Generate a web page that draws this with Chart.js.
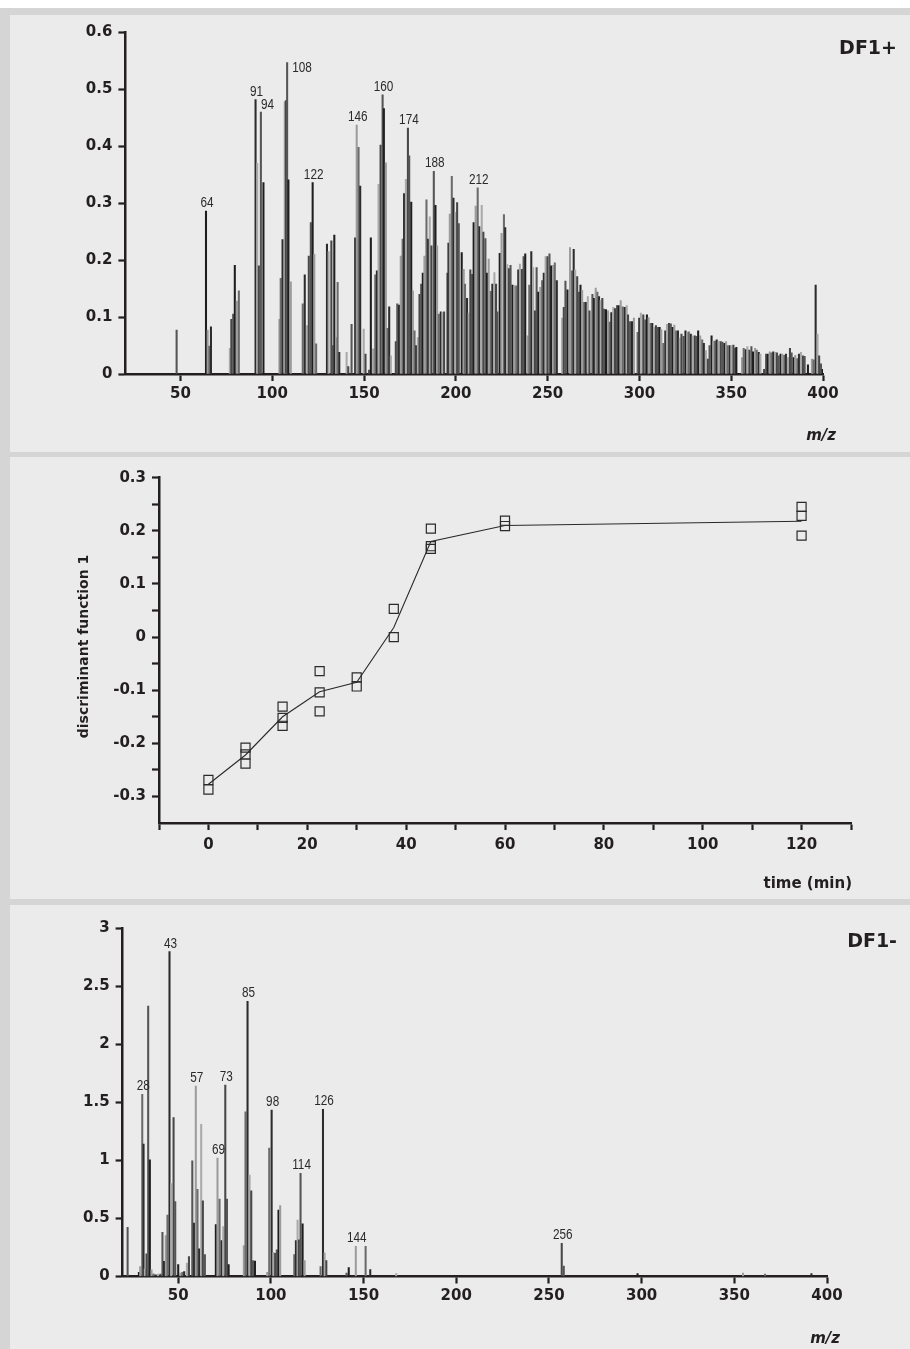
<!doctype html>
<html>

<head>
    <title>DF1 loadings</title>
    <script src="https://cdn.jsdelivr.net/npm/chart.js@4.4.1/dist/chart.umd.min.js"></script>
    <style>
    body { margin: 0; background: #fff; }
    #frame { position: absolute; left: 0; top: 8px; width: 910px; height: 1341px; background: #d5d5d5; }
    .panel { position: absolute; left: 10px; width: 900px; background: #ebebeb; }
    canvas { display: block; }
    </style>
</head>

<body>
    <div id="frame"></div>
    <div class="panel" style="top:15px;height:437px"><canvas id="canvas" width="900" height="437"></canvas></div>
    <div class="panel" style="top:457px;height:442px"><canvas id="canvas2" width="900" height="442"></canvas></div>
    <div class="panel" style="top:905px;height:444px"><canvas id="canvas3" width="900" height="444"></canvas></div>
    <script>
        // ---- DF1+ loadings (m/z, loading) ----
        var posMz = [
            47.9, 63.9, 64.8, 65.7, 66.6, 76.9, 77.7, 78.7, 79.6, 80.7, 81.8,
            90.9, 91.8, 92.7, 93.8, 95.2, 103.9, 104.6, 105.6, 106.8, 107.4, 108.1, 108.8, 110.1,
            116.6, 117.7, 119.0, 119.9, 121.0, 122.0, 122.9, 123.9,
            129.8, 130.7, 132.2, 132.8, 133.8, 134.7, 135.6, 136.5, 140.5, 141.4, 143.2,
            145.2, 146.0, 147.0, 147.9, 149.8, 150.8, 152.7, 153.7, 155.0, 156.1, 157.0, 157.9, 159.0, 160.1, 160.8, 161.9, 162.8, 163.7, 164.6,
            167.3, 168.1, 169.1, 170.0, 171.0, 171.8, 172.8, 173.9, 174.6, 175.7, 176.6, 177.5, 178.4, 179.3, 180.2, 181.1,
            182.0, 182.9, 184.0, 184.9, 185.8, 186.7, 188.0, 188.9, 189.8, 190.7, 191.8, 192.7, 193.6,
            195.4, 196.0, 196.7, 197.8, 198.7, 199.8, 200.7, 201.6, 203.2, 204.3, 205.0, 206.1, 207.0,
            207.9, 208.8, 209.7, 210.8, 211.9, 212.8, 214.1, 215.0, 216.1, 217.0, 217.9, 219.0, 219.9, 221.0, 221.9, 222.6,
            223.9, 224.9, 226.2, 226.9, 228.0, 228.9, 229.8, 230.9, 231.8, 232.9, 234.0, 234.9, 236.0, 236.9, 237.8, 239.1,
            240.0, 241.1, 242.1, 243.1, 244.0, 244.9, 246.0, 247.0, 247.9, 248.9, 249.9, 251.0, 251.9, 253.0, 253.9, 255.0,
            257.9, 258.8, 259.7, 260.8, 262.2, 263.3, 264.2, 265.0, 266.1, 267.0, 267.9, 268.8, 269.9, 270.8, 271.9, 272.8,
            274.4, 275.3, 276.2, 277.1, 278.0, 278.9, 279.8, 280.7, 281.8, 282.9, 283.8, 284.7,
            285.8, 286.7, 287.8, 288.7, 289.8, 290.9, 292.0, 293.1, 293.8, 294.9, 296.0, 297.0,
            299.0, 299.9, 300.8, 302.1, 303.2, 304.1, 305.0, 306.1, 307.0, 308.1, 309.0, 310.1, 311.0, 311.9, 313.0, 314.1,
            315.0, 316.1, 317.1, 318.1, 319.0, 320.0, 321.0, 322.0, 322.9, 324.0, 325.1, 326.0, 326.9, 328.0, 329.1, 330.2,
            331.1, 332.0, 333.1, 334.2, 335.1, 336.2, 337.3, 338.2, 339.3, 340.2, 341.2, 342.1, 343.2, 344.3, 345.2, 346.3,
            347.2, 348.1, 349.2, 350.1, 351.2, 352.1, 352.8, 355.9, 356.8, 357.9, 358.8, 359.9, 361.0, 361.9, 363.0, 363.9,
            365.0, 365.9, 367.9, 369.0, 369.9, 371.0, 371.9, 372.9, 373.9, 374.9, 375.8, 376.9, 377.8, 378.9, 379.8, 380.9,
            382.0, 382.9, 384.0, 384.9, 386.0, 386.9, 388.0, 389.1, 390.0, 391.8, 394.0, 394.9, 396.0, 397.0, 397.9, 398.9, 399.8
        ];
        var posLoad = [
            0.077, 0.286, 0.077, 0.049, 0.083, 0.045, 0.096, 0.105, 0.191, 0.128, 0.146,
            0.482, 0.370, 0.190, 0.460, 0.336, 0.096, 0.168, 0.236, 0.478, 0.480, 0.547, 0.341, 0.162,
            0.123, 0.174, 0.085, 0.207, 0.266, 0.336, 0.210, 0.053,
            0.228, 0.215, 0.234, 0.050, 0.244, 0.064, 0.161, 0.038, 0.038, 0.013, 0.087,
            0.239, 0.437, 0.398, 0.330, 0.079, 0.035, 0.007, 0.239, 0.044, 0.174, 0.181, 0.333, 0.402, 0.490, 0.466, 0.371, 0.080, 0.118, 0.032,
            0.057, 0.123, 0.121, 0.207, 0.237, 0.317, 0.342, 0.432, 0.383, 0.302, 0.146, 0.076, 0.050, 0.064, 0.140, 0.158,
            0.177, 0.207, 0.306, 0.237, 0.276, 0.225, 0.356, 0.296, 0.225, 0.105, 0.109, 0.108, 0.109,
            0.177, 0.230, 0.281, 0.347, 0.309, 0.284, 0.301, 0.264, 0.213, 0.184, 0.158, 0.133, 0.107,
            0.183, 0.175, 0.266, 0.295, 0.327, 0.259, 0.296, 0.249, 0.238, 0.177, 0.202, 0.145, 0.158, 0.178, 0.158, 0.109,
            0.212, 0.247, 0.280, 0.257, 0.192, 0.185, 0.191, 0.156, 0.155, 0.155, 0.183, 0.193, 0.184, 0.206, 0.211, 0.067,
            0.156, 0.215, 0.187, 0.111, 0.187, 0.144, 0.152, 0.164, 0.177, 0.206, 0.206, 0.211, 0.190, 0.191, 0.195, 0.164,
            0.098, 0.117, 0.163, 0.148, 0.222, 0.181, 0.219, 0.183, 0.171, 0.144, 0.156, 0.147, 0.126, 0.126, 0.136, 0.111,
            0.140, 0.133, 0.151, 0.144, 0.136, 0.129, 0.133, 0.114, 0.113, 0.111, 0.091, 0.108,
            0.117, 0.115, 0.120, 0.120, 0.129, 0.118, 0.117, 0.120, 0.104, 0.092, 0.092, 0.098,
            0.073, 0.098, 0.107, 0.104, 0.095, 0.104, 0.099, 0.089, 0.089, 0.082, 0.085, 0.082, 0.082, 0.078, 0.054, 0.076,
            0.087, 0.089, 0.088, 0.082, 0.086, 0.076, 0.076, 0.063, 0.070, 0.066, 0.076, 0.073, 0.074, 0.070, 0.067, 0.067,
            0.066, 0.076, 0.067, 0.060, 0.054, 0.041, 0.026, 0.050, 0.067, 0.058, 0.058, 0.060, 0.058, 0.057, 0.056, 0.054,
            0.057, 0.050, 0.050, 0.050, 0.051, 0.045, 0.047, 0.029, 0.045, 0.043, 0.048, 0.042, 0.048, 0.039, 0.045, 0.042,
            0.038, 0.035, 0.008, 0.035, 0.035, 0.039, 0.037, 0.039, 0.038, 0.037, 0.032, 0.035, 0.035, 0.033, 0.035, 0.029,
            0.045, 0.037, 0.029, 0.033, 0.027, 0.035, 0.038, 0.032, 0.031, 0.016, 0.026, 0.025, 0.156, 0.070, 0.032, 0.018, 0.008
        ];
        var posPeakText = ['64', '91', '94', '108', '122', '146', '160', '174', '188', '212'];
        var posPeakAt = [63.9, 90.9, 93.8, 108.1, 122.0, 146.0, 160.1, 173.9, 188.0, 211.9];

        // ---- discriminant function 1 vs time ----
        var timePts = [0, 0, 7.5, 7.5, 7.5, 15, 15, 15, 22.5, 22.5, 22.5, 30, 30, 37.5, 37.5, 45, 45, 45, 60, 60, 120, 120, 120];
        var dfPts = [-0.269, -0.287, -0.208, -0.221, -0.238, -0.131, -0.152, -0.167, -0.064, -0.104, -0.140, -0.076, -0.093,
            0.053, 0.000, 0.204, 0.171, 0.166, 0.219, 0.209, 0.245, 0.228, 0.191];
        var lineTimes = [0, 7.5, 15, 22.5, 30, 37.5, 45, 60, 120];
        var lineVals = [-0.277, -0.222, -0.150, -0.103, -0.085, 0.018, 0.180, 0.210, 0.218];

        // ---- DF1- loadings (m/z, loading) ----
        var negMz = [
            22.7, 28.8, 29.5, 30.6, 31.3, 32.0, 32.9, 33.8, 34.7, 35.6, 36.7, 37.9, 39.0, 40.4,
            41.5, 42.4, 43.3, 44.2, 45.3, 46.2, 47.5, 48.4, 50.0, 51.1, 52.2, 53.2, 54.7, 55.8,
            57.6, 58.6, 59.5, 60.4, 61.3, 62.4, 63.3, 64.4,
            70.3, 71.2, 72.3, 73.4, 74.3, 75.4, 76.3, 77.2,
            85.4, 86.3, 87.4, 88.5, 89.4, 90.3, 91.4,
            98.0, 99.1, 100.4, 101.4, 102.3, 103.2, 104.1, 105.0,
            112.6, 113.5, 114.4, 115.1, 116.0, 117.1, 118.2,
            126.8, 128.1, 129.0, 129.9, 140.8, 142.0, 145.8, 151.1, 153.6, 167.6,
            256.9, 258.0, 297.8, 354.7, 366.6, 391.6
        ];
        var negLoad = [
            0.424, 0.037, 0.086, 1.570, 1.140, 0.066, 0.195, 2.330, 1.006, 0.057, 0.023, 0.014, 0.020, 0.020,
            0.380, 0.130, 0.352, 0.530, 2.800, 0.800, 1.370, 0.645, 0.103, 0.029, 0.037, 0.043, 0.115, 0.172,
            0.997, 0.461, 1.640, 0.750, 0.238, 1.310, 0.653, 0.189,
            0.447, 1.020, 0.668, 0.310, 0.430, 1.650, 0.668, 0.103,
            0.266, 1.418, 2.370, 0.874, 0.739, 0.138, 0.132,
            0.037, 1.106, 1.433, 0.209, 0.200, 0.230, 0.573, 0.610,
            0.189, 0.310, 0.487, 0.315, 0.888, 0.453, 0.138,
            0.086, 1.441, 0.203, 0.138, 0.030, 0.076, 0.260, 0.260, 0.060, 0.026,
            0.285, 0.090, 0.025, 0.030, 0.020, 0.025
        ];
        var negPeakText = ['28', '43', '57', '69', '73', '85', '98', '114', '126', '144', '256'];
        var negPeakAt = [30.6, 45.3, 59.5, 71.2, 75.4, 87.4, 100.4, 116.0, 128.1, 145.8, 256.9];

        // ---- tick labels ----
        var mzTicks = [50, 100, 150, 200, 250, 300, 350, 400];
        var mzLabels = ['50', '100', '150', '200', '250', '300', '350', '400'];
        var posTicks = [0, 0.1, 0.2, 0.3, 0.4, 0.5, 0.6];
        var posLabels = ['0', '0.1', '0.2', '0.3', '0.4', '0.5', '0.6'];
        var negTicks = [0, 0.5, 1, 1.5, 2, 2.5, 3];
        var negLabels = ['0', '0.5', '1', '1.5', '2', '2.5', '3'];
        var timeTicks = [-10, 0, 10, 20, 30, 40, 50, 60, 70, 80, 90, 100, 110, 120, 130];
        var timeLabels = ['', '0', '', '20', '', '40', '', '60', '', '80', '', '100', '', '120', ''];
        var dfTicks = [-0.3, -0.25, -0.2, -0.15, -0.1, -0.05, 0, 0.05, 0.1, 0.15, 0.2, 0.25, 0.3];
        var dfLabels = ['-0.3', '', '-0.2', '', '-0.1', '', '0', '', '0.1', '', '0.2', '', '0.3'];

        var ink = '#231f20';
        var tickFont = { family: '"DejaVu Sans", sans-serif', weight: 'bold', size: 15 };
        var shades = ['#555555', '#1e1e1e', '#9c9c9c', '#6b6b6b', '#2c2c2c', '#a9a9a9', '#474747'];

        function axis(o) {
            return {
                type: 'linear', min: o.min, max: o.max, offset: false,
                afterBuildTicks: function(s) { s.ticks = o.ticks.map(function(v) { return { value: v }; }); },
                afterFit: function(s) { if (o.w) s.width = o.w; if (o.h) s.height = o.h; },
                ticks: {
                    autoSkip: false, maxRotation: 0, padding: o.pad, color: ink, font: tickFont,
                    callback: function(v, i) { return o.labels[i]; }
                },
                grid: { offset: false, drawOnChartArea: false, drawTicks: true, tickLength: 7, tickWidth: 2.2, tickColor: ink },
                border: { display: true, color: ink, width: 2.5 }
            };
        }

        // peak labels and free text drawn on top of the chart
        var annotate = {
            id: 'annotate',
            afterDatasetsDraw: function(chart, args, opts) {
                var ctx = chart.ctx;
                var xs = chart.scales.x, ys = chart.scales.y;
                ctx.save();
                if (opts.peakText) {
                    var d = chart.data.datasets[0].data;
                    ctx.font = '14px "Liberation Sans", sans-serif';
                    ctx.fillStyle = '#2a2a2a';
                    ctx.textBaseline = 'alphabetic';
                    opts.peakText.forEach(function(t, i) {
                        var at = opts.peakAt[i], best = d[0];
                        d.forEach(function(p) { if (Math.abs(p.x - at) < Math.abs(best.x - at)) best = p; });
                        var px = xs.getPixelForValue(best.x), py = ys.getPixelForValue(best.y);
                        var place = (opts.place || {})[t];
                        var tx = px + 1, ty = py - 4, al = 'center';
                        if (place === 'r') { tx = px + 5; ty = py + 10; al = 'left'; }
                        else if (place === 'l') { tx = px; ty = py - 3; al = 'left'; }
                        // narrow, like the condensed face of the original
                        ctx.save();
                        ctx.translate(tx, ty);
                        ctx.scale(0.84, 1);
                        ctx.textAlign = al;
                        ctx.fillText(t, 0, 0);
                        ctx.restore();
                    });
                }
                (opts.texts || []).forEach(function(t) {
                    ctx.save();
                    ctx.font = t.font;
                    ctx.fillStyle = ink;
                    ctx.textAlign = t.align || 'right';
                    ctx.textBaseline = 'alphabetic';
                    ctx.translate(t.x, t.y);
                    if (t.rot) ctx.rotate(t.rot);
                    ctx.fillText(t.t, 0, 0);
                    ctx.restore();
                });
                ctx.restore();
            }
        };

        function barData(mz, vals) {
            return {
                datasets: [{
                    data: mz.map(function(m, i) { return { x: m, y: vals[i] }; }),
                    backgroundColor: function(c) { return shades[c.dataIndex % shades.length]; },
                    borderWidth: 0,
                    barThickness: 1.4
                }]
            };
        }

        var common = {
            responsive: false,
            animation: false,
            events: []
        };

        window.myBar = new Chart(document.getElementById('canvas').getContext('2d'), {
            type: 'bar',
            data: barData(posMz, posLoad),
            plugins: [annotate],
            options: Object.assign({}, common, {
                layout: { padding: { left: 0, top: 17.3, right: 87, bottom: 38 } },
                scales: {
                    x: axis({ min: 20, max: 400, ticks: mzTicks, labels: mzLabels, h: 40, pad: 4 }),
                    y: axis({ min: 0, max: 0.6, ticks: posTicks, labels: posLabels, w: 115.4, pad: 6 })
                },
                plugins: {
                    legend: { display: false }, tooltip: { enabled: false },
                    annotate: {
                        peakText: posPeakText, peakAt: posPeakAt, place: { '94': 'l', '108': 'r' },
                        texts: [
                            { t: 'DF1+', x: 887, y: 39, font: 'bold 19px "DejaVu Sans", sans-serif' },
                            { t: 'm/z', x: 826, y: 425, font: 'italic bold 15px "DejaVu Sans", sans-serif' }
                        ]
                    }
                }
            })
        });

        window.myLine = new Chart(document.getElementById('canvas2').getContext('2d'), {
            type: 'scatter',
            data: {
                datasets: [{
                    type: 'line',
                    data: lineTimes.map(function(t, i) { return { x: t, y: lineVals[i] }; }),
                    borderColor: '#2a2a2a', borderWidth: 1.1, pointRadius: 0, tension: 0, fill: false
                }, {
                    data: timePts.map(function(t, i) { return { x: t, y: dfPts[i] }; }),
                    pointStyle: 'rect', pointRadius: 6.4, borderWidth: 1.2,
                    borderColor: '#2a2a2a', backgroundColor: 'rgba(0,0,0,0)'
                }]
            },
            plugins: [annotate],
            options: Object.assign({}, common, {
                layout: { padding: { left: 0, top: 20.7, right: 59, bottom: 36 } },
                scales: {
                    x: axis({ min: -10, max: 130, ticks: timeTicks, labels: timeLabels, h: 40, pad: 6 }),
                    y: axis({ min: -0.35, max: 0.3, ticks: dfTicks, labels: dfLabels, w: 149, pad: 6 })
                },
                plugins: {
                    legend: { display: false }, tooltip: { enabled: false },
                    annotate: {
                        texts: [
                            { t: 'time (min)', x: 842, y: 431, font: 'bold 15px "DejaVu Sans", sans-serif' },
                            { t: 'discriminant function 1', x: 78, y: 189.5, rot: -Math.PI / 2, align: 'center',
                              font: 'bold 14px "DejaVu Sans", sans-serif' }
                        ]
                    }
                }
            })
        });

        window.myBar3 = new Chart(document.getElementById('canvas3').getContext('2d'), {
            type: 'bar',
            data: barData(negMz, negLoad),
            plugins: [annotate],
            options: Object.assign({}, common, {
                layout: { padding: { left: 0, top: 23.3, right: 83, bottom: 32.5 } },
                scales: {
                    x: axis({ min: 20, max: 400, ticks: mzTicks, labels: mzLabels, h: 40, pad: 4 }),
                    y: axis({ min: 0, max: 3, ticks: negTicks, labels: negLabels, w: 112.6, pad: 6 })
                },
                plugins: {
                    legend: { display: false }, tooltip: { enabled: false },
                    annotate: {
                        peakText: negPeakText, peakAt: negPeakAt,
                        texts: [
                            { t: 'DF1-', x: 887, y: 41.7, font: 'bold 19px "DejaVu Sans", sans-serif' },
                            { t: 'm/z', x: 830, y: 438, font: 'italic bold 15px "DejaVu Sans", sans-serif' }
                        ]
                    }
                }
            })
        });
    </script>
</body>

</html>
